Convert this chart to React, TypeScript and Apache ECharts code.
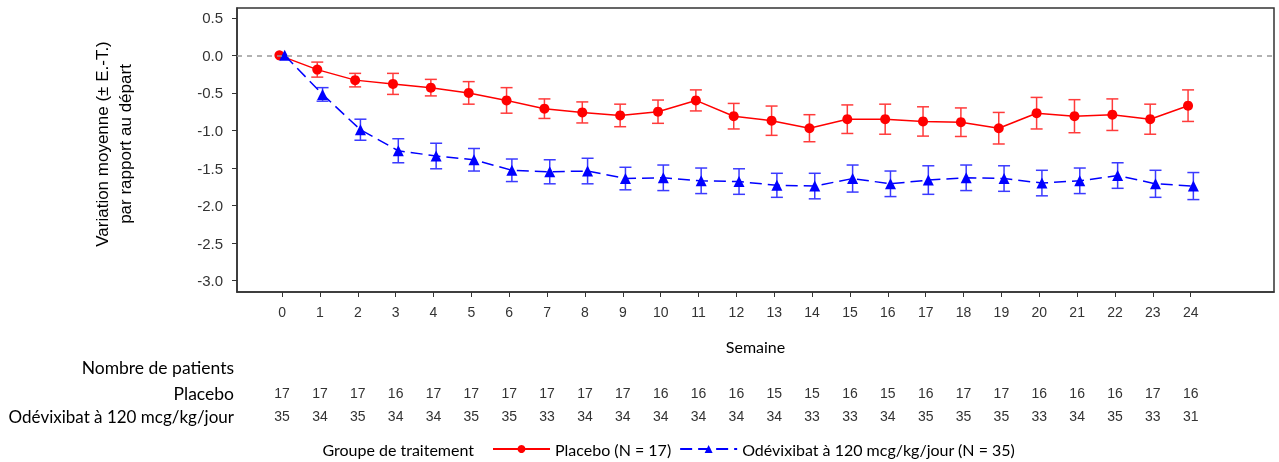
import React, { useEffect, useRef } from "react";
import * as echarts from "echarts";

const weeks = [0, 1, 2, 3, 4, 5, 6, 7, 8, 9, 10, 11, 12, 13, 14, 15, 16, 17, 18, 19, 20, 21, 22, 23, 24];
const placeboMean = [0, -0.19, -0.33, -0.38, -0.43, -0.5, -0.6, -0.71, -0.76, -0.8, -0.75, -0.6, -0.81, -0.87, -0.97, -0.85, -0.85, -0.88, -0.89, -0.97, -0.77, -0.81, -0.79, -0.85, -0.67];
const placeboSE = [0, 0.1, 0.09, 0.14, 0.11, 0.15, 0.17, 0.13, 0.14, 0.15, 0.155, 0.14, 0.17, 0.195, 0.18, 0.19, 0.2, 0.195, 0.19, 0.21, 0.21, 0.22, 0.21, 0.2, 0.21];
const odeMean = [0, -0.52, -0.99, -1.27, -1.34, -1.39, -1.53, -1.55, -1.54, -1.64, -1.63, -1.67, -1.68, -1.73, -1.74, -1.64, -1.71, -1.66, -1.63, -1.64, -1.7, -1.67, -1.6, -1.71, -1.74];
const odeSE = [0, 0.09, 0.14, 0.16, 0.17, 0.15, 0.15, 0.16, 0.17, 0.15, 0.17, 0.17, 0.17, 0.16, 0.17, 0.18, 0.17, 0.19, 0.17, 0.17, 0.17, 0.17, 0.17, 0.18, 0.18];
const placeboN = [17, 17, 17, 16, 17, 17, 17, 17, 17, 17, 16, 16, 16, 15, 15, 16, 15, 16, 17, 17, 16, 16, 16, 17, 16];
const odeN = [35, 34, 35, 34, 34, 35, 35, 33, 34, 34, 34, 34, 34, 34, 33, 33, 34, 35, 35, 35, 33, 34, 35, 33, 31];
const yTicks = [-3.0, -2.5, -2.0, -1.5, -1.0, -0.5, 0.0, 0.5];

const placeboName = "Placebo (N = 17)";
const odeName = "Odévixibat à 120 mcg/kg/jour (N = 35)";
const DODGE = 0.07;

const RED = "#ff0000";
const RED_BAR = "#ff3b3b";
const BLUE = "#0000ff";
const BLUE_BAR = "#3b3bff";
const NUM_FONT = "Liberation Sans, Arial, sans-serif";
const TXT_FONT = "Lato, 'Open Sans', sans-serif";

function errorBarRender(color: string) {
  return (params: any, api: any) => {
    const x = api.value(0);
    const m = api.value(1);
    const se = api.value(2);
    if (!se) return { type: "group", children: [] };
    const top = api.coord([x, m + se]);
    const bot = api.coord([x, m - se]);
    const hw = 6;
    const style = { stroke: color, lineWidth: 1.5 };
    return {
      type: "group",
      children: [
        { type: "line", shape: { x1: top[0], y1: top[1], x2: bot[0], y2: bot[1] }, style },
        { type: "line", shape: { x1: top[0] - hw, y1: top[1], x2: top[0] + hw, y2: top[1] }, style },
        { type: "line", shape: { x1: bot[0] - hw, y1: bot[1], x2: bot[0] + hw, y2: bot[1] }, style },
      ],
    };
  };
}

export default function App() {
  const ref = useRef<HTMLDivElement>(null);
  useEffect(() => {
    if (!ref.current) return;
    const chart = echarts.init(ref.current, undefined, { renderer: "svg" });
    const countAxis = (counts: number[], margin: number) => ({
      type: "value",
      gridIndex: 0,
      position: "bottom",
      min: -1.19,
      max: 26.2,
      axisLine: { show: false, onZero: false },
      axisTick: { show: false },
      splitLine: { show: false },
      axisLabel: {
        customValues: weeks,
        margin,
        fontFamily: NUM_FONT,
        fontSize: 14,
        color: "#333",
        formatter: (v: number) => String(counts[weeks.indexOf(Math.round(v))] ?? ""),
      },
    });
    chart.setOption({
      animation: false,
      grid: { left: 237, right: 5, top: 8, bottom: 170, show: true, borderColor: "#333", borderWidth: 1.5 },
      xAxis: [
        {
          type: "value",
          min: -1.19,
          max: 26.2,
          name: "Semaine",
          nameLocation: "middle",
          nameGap: 46,
          nameTextStyle: { fontFamily: TXT_FONT, fontSize: 16, color: "#000" },
          axisLine: { show: true, onZero: false, lineStyle: { color: "#333", width: 1.5 } },
          axisTick: { show: true, customValues: weeks, length: 5, lineStyle: { color: "#333" } },
          axisLabel: { customValues: weeks, margin: 13, fontFamily: NUM_FONT, fontSize: 14, color: "#333" },
          splitLine: { show: false },
        },
        countAxis(placeboN, 94),
        countAxis(odeN, 117),
      ],
      yAxis: {
        type: "value",
        min: -3.15,
        max: 0.63,
        axisLine: { show: true, onZero: false, lineStyle: { color: "#333", width: 1.5 } },
        axisTick: { show: true, customValues: yTicks, length: 5, lineStyle: { color: "#333" } },
        axisLabel: {
          customValues: yTicks,
          margin: 14,
          fontFamily: NUM_FONT,
          fontSize: 15,
          color: "#333",
          formatter: (v: number) => v.toFixed(1),
        },
        splitLine: { show: false },
      },
      legend: {
        data: [placeboName, odeName],
        left: 487,
        top: 436,
        itemWidth: 57,
        itemHeight: 10,
        itemGap: 8,
        textStyle: { fontFamily: TXT_FONT, fontSize: 16, color: "#000" },
      },
      graphic: [
        {
          type: "text",
          x: 114,
          y: 144,
          rotation: Math.PI / 2,
          style: {
            text: "Variation moyenne (± E.-T.)\npar rapport au départ",
            fontFamily: NUM_FONT,
            fontSize: 17,
            lineHeight: 23,
            fill: "#000",
            align: "center",
            verticalAlign: "middle",
          },
        },
        { type: "text", x: 234, y: 367, style: { text: "Nombre de patients", fontFamily: TXT_FONT, fontSize: 17.5, fill: "#000", align: "right", verticalAlign: "middle" } },
        { type: "text", x: 234, y: 393, style: { text: "Placebo", fontFamily: TXT_FONT, fontSize: 17.5, fill: "#000", align: "right", verticalAlign: "middle" } },
        { type: "text", x: 234, y: 416, style: { text: "Odévixibat à 120 mcg/kg/jour", fontFamily: TXT_FONT, fontSize: 17, fill: "#000", align: "right", verticalAlign: "middle" } },
        { type: "text", x: 474, y: 449, style: { text: "Groupe de traitement", fontFamily: TXT_FONT, fontSize: 16, fill: "#000", align: "right", verticalAlign: "middle" } },
      ],
      series: [
        {
          type: "custom",
          name: "placeboErr",
          xAxisIndex: 0,
          renderItem: errorBarRender(RED_BAR),
          data: weeks.map((w, i) => [w - DODGE, placeboMean[i], placeboSE[i]]),
          z: 1,
          silent: true,
        },
        {
          type: "custom",
          name: "odeErr",
          xAxisIndex: 0,
          renderItem: errorBarRender(BLUE_BAR),
          data: weeks.map((w, i) => [w + DODGE, odeMean[i], odeSE[i]]),
          z: 1,
          silent: true,
        },
        {
          type: "line",
          name: placeboName,
          xAxisIndex: 0,
          data: weeks.map((w, i) => [w - DODGE, placeboMean[i]]),
          symbol: "circle",
          symbolSize: 10,
          itemStyle: { color: RED },
          lineStyle: { color: RED, width: 1.5 },
          z: 3,
          markLine: {
            silent: true,
            symbol: "none",
            label: { show: false },
            lineStyle: { color: "#999", type: [5, 5], width: 1.5 },
            data: [{ yAxis: 0 }],
          },
        },
        {
          type: "line",
          name: odeName,
          xAxisIndex: 0,
          data: weeks.map((w, i) => [w + DODGE, odeMean[i]]),
          symbol: "triangle",
          symbolSize: 11,
          itemStyle: { color: BLUE },
          lineStyle: { color: BLUE, width: 1.5, type: [12, 6] },
          z: 3,
        },
      ],
    });
    return () => chart.dispose();
  }, []);
  return <div ref={ref} style={{ position: "fixed", left: 0, top: 0, width: 1279, height: 462 }} />;
}
